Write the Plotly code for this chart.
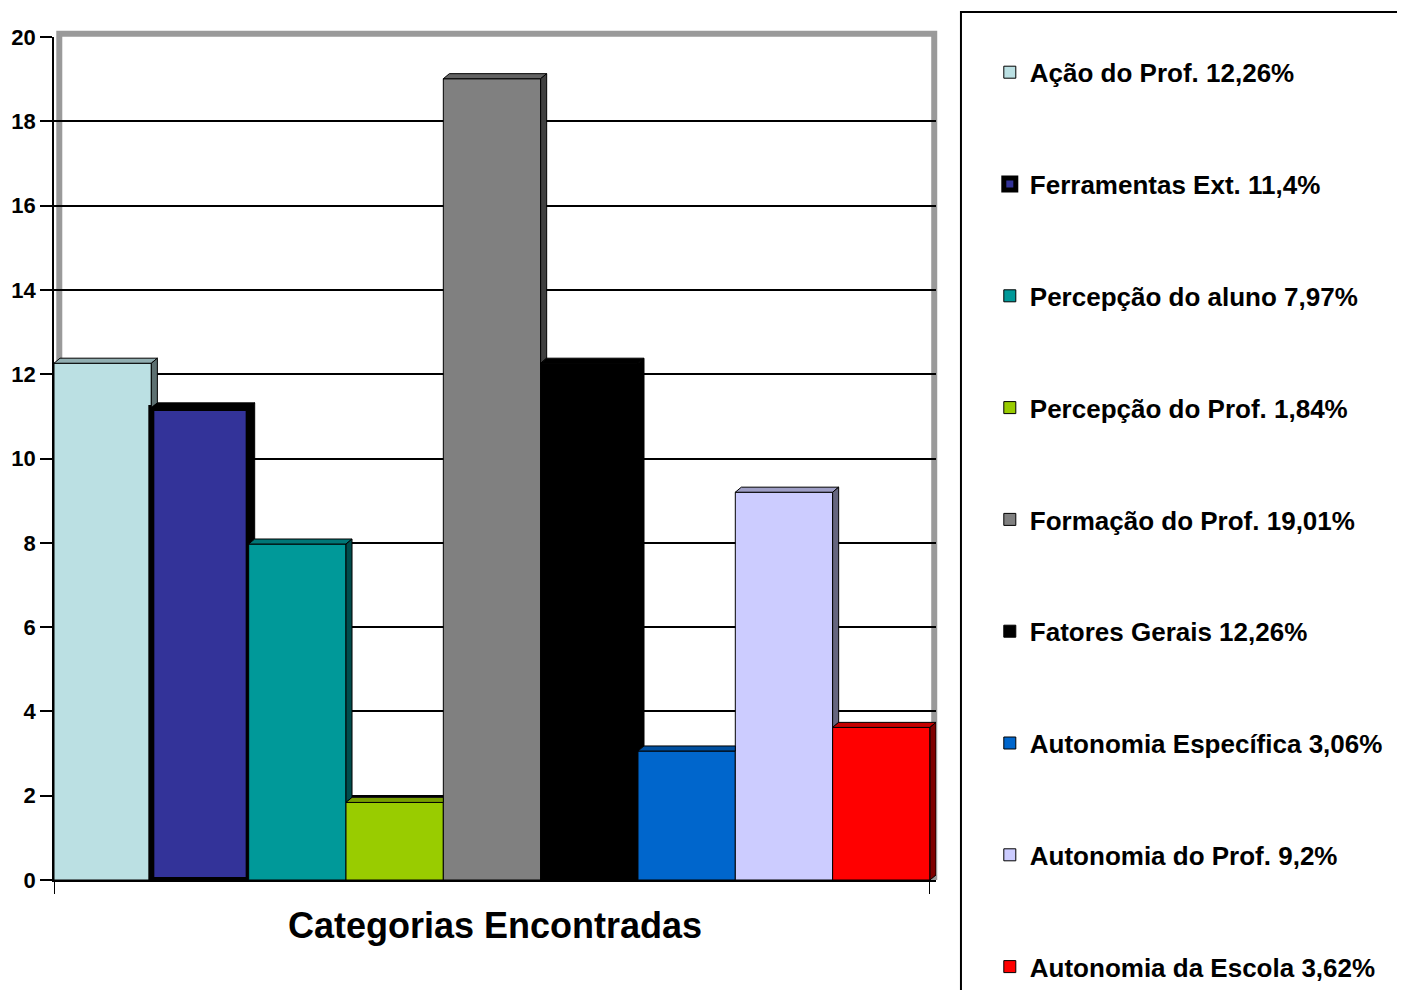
import plotly.graph_objects as go

categories = ["Ação do Prof. 12,26%", "Ferramentas Ext. 11,4%", "Percepção do aluno 7,97%",
              "Percepção do Prof. 1,84%", "Formação do Prof. 19,01%", "Fatores Gerais 12,26%",
              "Autonomia Específica 3,06%", "Autonomia do Prof. 9,2%", "Autonomia da Escola 3,62%"]
values = [12.26, 11.2, 7.97, 1.84, 19.01, 12.26, 3.06, 9.2, 3.62]
colors = ["#BBE0E3", "#333399", "#009999", "#99CC00", "#808080", "#000000",
          "#0066CC", "#CCCCFF", "#FF0000"]
line_widths = [1, 6, 1, 1, 1, 1, 1, 1, 1]
y_ticks = [0, 2, 4, 6, 8, 10, 12, 14, 16, 18, 20]
x_title = "Categorias Encontradas"

FONT = "Liberation Sans, Arial, sans-serif"
DX, DY = 0.062, 0.12  # 3D depth in data units


def darken(hx, f):
    hx = hx.lstrip("#")
    r, g, b = (int(hx[i:i + 2], 16) for i in (0, 2, 4))
    return "#%02x%02x%02x" % (int(r * f), int(g * f), int(b * f))


fig = go.Figure()
for i, (name, v, c, lw) in enumerate(zip(categories, values, colors, line_widths)):
    fig.add_trace(go.Bar(
        x=[i], y=[v], width=1, name=name, legendgroup=name,
        marker=dict(color=c, line=dict(color="black", width=lw)),
        hoverinfo="name+y",
    ))

# 3D depth faces computed from the data values
for i, (v, c, lw) in enumerate(zip(values, colors, line_widths)):
    l, r = i - 0.5, i + 0.5
    vnext = values[i + 1] if i + 1 < len(values) else 0
    side_c = "#000000" if lw > 1 else darken(c, 0.5)
    top_c = "#000000" if lw > 1 else darken(c, 0.78)
    rt = r if vnext > v + DY else r + DX
    fig.add_trace(go.Scatter(
        x=[l, l + DX, rt, r, l], y=[v, v + DY, v + DY, v, v],
        fill="toself", fillcolor=top_c, mode="lines",
        line=dict(color="black", width=1), showlegend=False, hoverinfo="skip"))
    if v > vnext:
        fig.add_trace(go.Scatter(
            x=[r, r + DX, r + DX, r, r], y=[vnext, vnext + DY, v + DY, v, vnext],
            fill="toself", fillcolor=side_c, mode="lines",
            line=dict(color="black", width=1), showlegend=False, hoverinfo="skip"))

shapes = [
    dict(type="path", xref="paper", yref="paper",
         path="M 0.006,0 L 0.006,1.004 L 0.998,1.004 L 0.998,0",
         line=dict(color="#9a9a9a", width=6), layer="below"),
    dict(type="rect", xref="paper", yref="paper",
         x0=1.0283, x1=1.5295, y0=-0.16, y1=1.0297,
         line=dict(color="black", width=2), fillcolor="rgba(0,0,0,0)"),
]

fig.update_layout(
    width=1405, height=990,
    margin=dict(l=46, r=477, t=29, b=118, autoexpand=False),
    paper_bgcolor="white", plot_bgcolor="white",
    barmode="overlay",
    font=dict(family=FONT, color="black"),
    shapes=shapes,
    showlegend=True,
    legend=dict(
        x=1.061, xanchor="left", y=0.986, yanchor="top",
        font=dict(family=FONT, size=26, color="black", weight="bold"),
        tracegroupgap=75, bgcolor="rgba(0,0,0,0)", borderwidth=0,
        traceorder="grouped", maxheight=1000,
    ),
    xaxis=dict(
        range=[-0.5, len(values) - 0.5 + DX], automargin=False,
        tickvals=[-0.5, len(values) - 0.5], ticktext=["", ""],
        ticks="outside", ticklen=12, tickcolor="black", tickwidth=1,
        showgrid=False, zeroline=False,
        showline=True, linecolor="black", linewidth=1.5,
        title=dict(text=x_title, standoff=18,
                   font=dict(family=FONT, size=36, weight="bold", color="black")),
    ),
    yaxis=dict(
        range=[0, 20], tickvals=y_ticks, automargin=False,
        ticks="outside", ticklen=12, tickcolor="black", tickwidth=1.5,
        tickfont=dict(family=FONT, size=22, weight="bold", color="black"),
        showgrid=True, gridcolor="black", gridwidth=1.5,
        zeroline=False, showline=True, linecolor="black", linewidth=1.5,
    ),
)

fig.write_html("out.html")
